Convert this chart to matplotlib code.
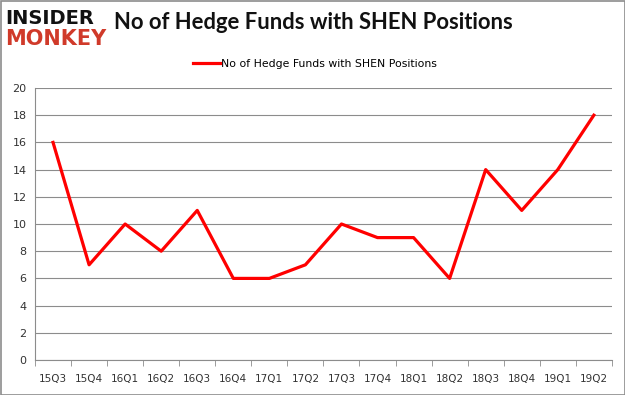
import matplotlib
matplotlib.use("Agg")
import matplotlib.pyplot as plt
from matplotlib.patches import Rectangle

categories = ["15Q3", "15Q4", "16Q1", "16Q2", "16Q3", "16Q4", "17Q1", "17Q2",
              "17Q3", "17Q4", "18Q1", "18Q2", "18Q3", "18Q4", "19Q1", "19Q2"]
values = [16, 7, 10, 8, 11, 6, 6, 7, 10, 9, 9, 6, 14, 11, 14, 18]
series_name = "No of Hedge Funds with SHEN Positions"
title = "No of Hedge Funds with SHEN Positions"
yticks = [0, 2, 4, 6, 8, 10, 12, 14, 16, 18, 20]

fig = plt.figure(figsize=(6.25, 3.95), dpi=100)
fig.patch.set_facecolor("white")
fig.add_artist(Rectangle((0.0008, 0.001), 0.9984, 0.997, transform=fig.transFigure,
                         fill=False, edgecolor="#8c8c8c", linewidth=1.2))

ax = fig.add_axes([0.056, 0.0886, 0.923, 0.6886])
x = list(range(len(categories)))
ax.plot(x, values, color="#ff0000", linewidth=2.3, label=series_name)
ax.set_xlim(-0.5, len(categories) - 0.5)
ax.set_ylim(0, 20)
ax.set_yticks(yticks)
ax.set_yticklabels([str(v) for v in yticks], fontsize=8, family="DejaVu Sans", color="#333333")
ax.set_xticks(x)
ax.set_xticklabels(categories, fontsize=7.5, family="DejaVu Sans", color="#333333")
ax.set_xticks([i - 0.5 for i in range(len(categories) + 1)], minor=True)
ax.tick_params(axis="x", which="major", length=0, pad=10)
ax.tick_params(axis="x", which="minor", length=4, color="#8c8c8c", direction="out")
ax.tick_params(axis="y", length=0, pad=6)
ax.grid(axis="y", color="#8c8c8c", linewidth=0.8)
ax.set_axisbelow(True)
for s in ["top", "right"]:
    ax.spines[s].set_visible(False)
ax.spines["left"].set_color("#8c8c8c")
ax.spines["bottom"].set_color("#8c8c8c")

ax.legend(loc="lower center", bbox_to_anchor=(0.485, 1.035), frameon=False,
          handlelength=2.5, handletextpad=0.1,
          prop={"family": "DejaVu Sans", "size": 7.8})

fig.text(0.502, 0.943, title, ha="center", va="center", fontsize=15.8,
         fontweight="bold", family="Lato", color="#111111")
fig.text(0.008, 0.953, "INSIDER", ha="left", va="center", fontsize=14,
         fontweight="heavy", family="DejaVu Sans", color="#111111")
fig.text(0.008, 0.902, "MONKEY", ha="left", va="center", fontsize=15,
         fontweight="heavy", family="DejaVu Sans", color="#d03a2a")

fig.savefig("out.png", dpi=100)
